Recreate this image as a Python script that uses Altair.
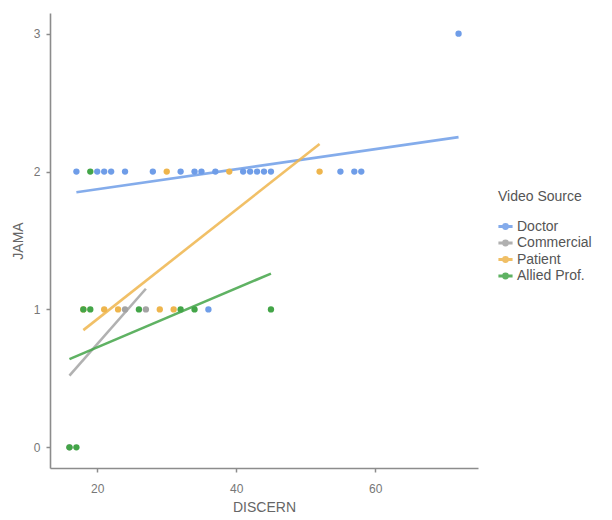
import altair as alt
import pandas as pd

# Scatter data (DISCERN vs JAMA) by video source
doctor_x = [17, 20, 21, 22, 24, 28, 32, 34, 35, 37, 41, 42, 43, 44, 45, 55, 57, 58, 72, 36]
doctor_y = [2, 2, 2, 2, 2, 2, 2, 2, 2, 2, 2, 2, 2, 2, 2, 2, 2, 2, 3, 1]
commercial_x = [16, 24, 27]
commercial_y = [0, 1, 1]
patient_x = [18, 21, 23, 29, 31, 30, 39, 52]
patient_y = [1, 1, 1, 1, 1, 2, 2, 2]
allied_x = [19, 18, 19, 26, 32, 34, 45, 16, 17]
allied_y = [2, 1, 1, 1, 1, 1, 1, 0, 0]

# Linear fit endpoints per group
fit_source = ["Doctor", "Doctor", "Commercial", "Commercial", "Patient", "Patient", "Allied Prof.", "Allied Prof."]
fit_x = [17, 72, 16, 27, 18, 52, 16, 45]
fit_y = [1.85, 2.25, 0.52, 1.15, 0.85, 2.20, 0.64, 1.26]

sources = ["Doctor", "Commercial", "Patient", "Allied Prof."]
colors = ["#6f9de8", "#a3a3a3", "#eeb54c", "#43a548"]

rows = []
for name, xs, ys in [("Doctor", doctor_x, doctor_y), ("Commercial", commercial_x, commercial_y),
                     ("Patient", patient_x, patient_y), ("Allied Prof.", allied_x, allied_y)]:
    for x, y in zip(xs, ys):
        rows.append({"source": name, "DISCERN": x, "JAMA": y})
points_df = pd.DataFrame(rows)
fit_df = pd.DataFrame({"source": fit_source, "DISCERN": fit_x, "JAMA": fit_y})

color = alt.Color("source:N", scale=alt.Scale(domain=sources, range=colors),
                  legend=alt.Legend(title="Video Source", orient="none", legendX=448, legendY=177,
                                    symbolType="M-1,-0.12 H1 V0.12 H-1 Z M0.42,0 A0.42,0.42 0 1,1 -0.42,0 A0.42,0.42 0 1,1 0.42,0 Z",
                                    symbolSize=160, labelFontSize=14, titleFontSize=14,
                                    labelColor="#555555", titleColor="#555555", titleFontWeight="normal",
                                    rowPadding=1.5, titlePadding=15, labelOffset=4))

xs = alt.X("DISCERN:Q", title="DISCERN",
           scale=alt.Scale(domain=[13.2, 74.8], nice=False, zero=False),
           axis=alt.Axis(values=[20, 40, 60], grid=False))
ys = alt.Y("JAMA:Q", title="JAMA",
           scale=alt.Scale(domain=[-0.15, 3.15], nice=False, zero=False),
           axis=alt.Axis(values=[0, 1, 2, 3], grid=False))

pts = alt.Chart(points_df).mark_circle(size=40, opacity=1).encode(x=xs, y=ys, color=color)
lines = alt.Chart(fit_df).mark_line(strokeWidth=2.6, opacity=0.85).encode(
    x=xs, y=ys, color=color, detail="source:N")

chart = alt.layer(lines, pts).properties(
    width=428, height=455,
    autosize=alt.AutoSizeParams(type="none"),
    padding={"left": 42, "top": 5, "right": 125, "bottom": 50},
).configure_view(stroke=None).configure_axis(
    domainColor="#8c8c8c", domainWidth=1.6, tickColor="#8c8c8c", tickSize=4, tickWidth=1.5,
    labelColor="#777777", labelFontSize=12, labelFont="Liberation Sans",
    titleColor="#666666", titleFontSize=14, titleFontWeight="normal", titleFont="Liberation Sans",
    labelPadding=6,
).configure_axisX(titlePadding=6, labelPadding=11).configure_axisY(titlePadding=8).configure_legend(
    labelFont="Liberation Sans", titleFont="Liberation Sans")

chart.save("out.html", embed_options={"renderer": "svg", "actions": False})
